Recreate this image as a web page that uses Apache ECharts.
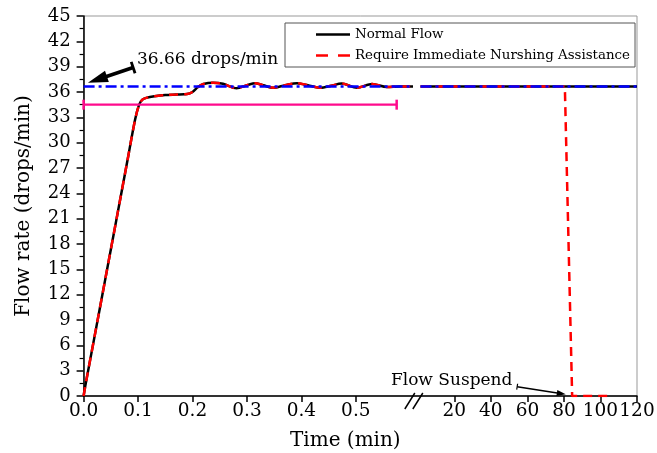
<!DOCTYPE html>
<html>
<head>
<meta charset="utf-8">
<script src="https://cdn.jsdelivr.net/npm/echarts@6/dist/echarts.min.js"></script>
<style>html,body{margin:0;padding:0;background:#fff}#c{width:657px;height:453px}</style>
</head>
<body>
<div id="c"></div>
<script>
// ---- data (time in minutes, flow in drops/min) ----
var seg1Time = [0, 0.004, 0.02, 0.04, 0.06, 0.08, 0.0945, 0.102, 0.108, 0.115, 0.13, 0.15, 0.17, 0.19, 0.2, 0.21, 0.22, 0.238, 0.256, 0.281, 0.3, 0.315, 0.33, 0.348, 0.37, 0.392, 0.415, 0.435, 0.455, 0.474, 0.502, 0.53, 0.557, 0.58, 0.605];
var seg1Flow = [0, 1.5, 7.0, 13.9, 20.8, 27.7, 32.7, 34.5, 35.1, 35.3, 35.5, 35.65, 35.7, 35.75, 36.0, 36.6, 36.95, 37.1, 36.97, 36.45, 36.8, 37.05, 36.8, 36.5, 36.8, 37.05, 36.75, 36.5, 36.75, 37.0, 36.5, 36.95, 36.6, 36.66, 36.66];
var normalSeg2Time = [1.5, 120];
var normalSeg2Flow = [36.66, 36.66];
var alarmSeg2Time = [1.5, 80.5, 84.5, 105];
var alarmSeg2Flow = [36.66, 36.66, 0, 0];
var setRate = 36.66;
var setSeg1Time = [0, 0.605];
var setSeg2Time = [1.5, 120];
var rangeTime = [0, 0.575];
var rangeFlow = 34.5;
var xTicks1 = [0, 0.1, 0.2, 0.3, 0.4, 0.5];
var xTicks2 = [20, 40, 60, 80, 100, 120];

// broken axis: segment 1 linear in minutes, segment 2 compressed
var B = 0.6138, K = 0.003355;
function d1(t) { return t; }
function d2(T) { return B + T * K; }
function pts(ts, vs, f) { return ts.map(function (t, i) { return [f(t), vs[i]]; }); }

var FONT = 'DejaVu Serif';
var N1 = 'Normal Flow', N2 = 'Require Immediate Nurshing Assistance';
var tickVals = xTicks1.map(d1).concat(xTicks2.map(d2));

var chart = echarts.init(document.getElementById('c'));
var lineBase = { type: 'line', symbol: 'none', animation: false };
var blackStyle = { color: '#000', width: 2.5, type: 'solid' };
var redStyle = { color: '#ff0000', width: 2.5, type: [9, 6] };
var blueStyle = { color: '#0000ff', width: 2.5, type: [11, 4, 3, 4] };

chart.setOption({
  animation: false,
  textStyle: { fontFamily: FONT },
  grid: { left: 83.6, right: 20, top: 16, bottom: 57, outerBoundsMode: 'none', containLabel: false, show: true, borderColor: '#999', borderWidth: 1 },
  legend: {
    data: [
      { name: N1, icon: 'path://M0 0H34V2.6H0Z' },
      { name: N2, icon: 'path://M0 0H12V2.6H0Z M22 0H34V2.6H22Z' }
    ],
    orient: 'vertical', left: 285, top: 23,
    itemWidth: 34, itemHeight: 14, itemGap: 8,
    padding: [5, 5, 5, 31], borderColor: '#555', borderWidth: 1, backgroundColor: '#fff',
    textStyle: { fontFamily: FONT, fontSize: 13.4, color: '#000' }
  },
  xAxis: {
    type: 'value', min: 0, max: d2(120),
    name: 'Time (min)', nameLocation: 'middle', nameGap: 35,
    nameTextStyle: { fontFamily: FONT, fontSize: 20, color: '#000', padding: [0, 30, 0, 0] },
    axisLine: { show: true, lineStyle: { color: '#000', width: 1.5 } },
    axisTick: { show: true, customValues: tickVals, length: 6, lineStyle: { color: '#000', width: 1.5 } },
    axisLabel: {
      customValues: tickVals, margin: 6, fontFamily: FONT, fontSize: 18.5, color: '#000',
      formatter: function (v) { return v < B ? v.toFixed(1) : String(Math.round((v - B) / K)); }
    },
    splitLine: { show: false }
  },
  yAxis: {
    type: 'value', min: 0, max: 45, interval: 3,
    name: 'Flow rate (drops/min)', nameLocation: 'middle', nameGap: 50,
    nameTextStyle: { fontFamily: FONT, fontSize: 20, color: '#000' },
    axisLine: { show: true, lineStyle: { color: '#000', width: 1.5 } },
    axisTick: { show: true, length: 7, lineStyle: { color: '#000', width: 1.5 } },
    minorTick: { show: true, splitNumber: 2, length: 4, lineStyle: { color: '#000', width: 1.2 } },
    axisLabel: { margin: 13, fontFamily: FONT, fontSize: 18, color: '#000' },
    splitLine: { show: false }
  },
  series: [
    Object.assign({}, lineBase, { name: N1, smooth: 0.3, data: pts(seg1Time, seg1Flow, d1), lineStyle: blackStyle, itemStyle: { color: '#000' } }),
    Object.assign({}, lineBase, { name: N1, data: pts(normalSeg2Time, normalSeg2Flow, d2), lineStyle: blackStyle, itemStyle: { color: '#000' } }),
    Object.assign({}, lineBase, { name: N2, smooth: 0.3, data: pts(seg1Time, seg1Flow, d1), lineStyle: redStyle, itemStyle: { color: '#ff0000' } }),
    Object.assign({}, lineBase, { name: N2, data: pts(alarmSeg2Time, alarmSeg2Flow, d2), lineStyle: redStyle, itemStyle: { color: '#ff0000' } }),
    Object.assign({}, lineBase, { name: 'Set rate', data: setSeg1Time.map(function (t) { return [d1(t), setRate]; }), lineStyle: blueStyle }),
    Object.assign({}, lineBase, { name: 'Set rate', data: setSeg2Time.map(function (t) { return [d2(t), setRate]; }), lineStyle: blueStyle }),
    { type: 'line', name: 'Range', animation: false, symbol: 'rect', symbolSize: [2.5, 10], showSymbol: true,
      data: rangeTime.map(function (t) { return [d1(t), rangeFlow]; }),
      lineStyle: { color: '#ff0a8c', width: 2.2 }, itemStyle: { color: '#ff0a8c' } }
  ]
});

// ---- annotations positioned from data coordinates ----
function px(x, y) { return chart.convertToPixel({ gridIndex: 0 }, [x, y]); }
function arrow(tail, head, w, hl, hw) {
  var dx = head[0] - tail[0], dy = head[1] - tail[1], L = Math.sqrt(dx * dx + dy * dy);
  var ux = dx / L, uy = dy / L, nx = -uy, ny = ux;
  var bx = head[0] - ux * hl, by = head[1] - uy * hl;
  var capL = hw * 0.5;
  return [
    { type: 'line', shape: { x1: tail[0], y1: tail[1], x2: bx + ux * 2, y2: by + uy * 2 }, style: { stroke: '#000', lineWidth: w } },
    { type: 'polygon', shape: { points: [[head[0], head[1]], [bx + nx * hw / 2, by + ny * hw / 2], [bx - nx * hw / 2, by - ny * hw / 2]] }, style: { fill: '#000' } },
    { type: 'line', shape: { x1: tail[0] + nx * capL, y1: tail[1] + ny * capL, x2: tail[0] - nx * capL, y2: tail[1] - ny * capL }, style: { stroke: '#000', lineWidth: Math.max(1.2, w * 0.8) } }
  ];
}
var g = [];
var a1t = px(d1(0.091), 38.9), a1h = px(d1(0.008), 37.1);
g = g.concat(arrow(a1t, a1h, 3.5, 20, 12));
var t1 = px(d1(0.098), 39.8);
g.push({ type: 'text', x: t1[0], y: t1[1], style: { text: '36.66 drops/min', font: '17px "DejaVu Serif"', fill: '#000', align: 'left', verticalAlign: 'middle' } });
var a2t = px(d2(54.4), 1.1), a2h = px(d2(81), 0.2);
g = g.concat(arrow(a2t, a2h, 1.5, 9, 6));
var t2 = px(d2(51.8), 1.8);
g.push({ type: 'text', x: t2[0], y: t2[1], style: { text: 'Flow Suspend', font: '17px "DejaVu Serif"', fill: '#000', align: 'right', verticalAlign: 'middle' } });
var bp = px(B, 0);
[[-13, -3], [-5, 5]].forEach(function (o) {
  g.push({ type: 'line', shape: { x1: bp[0] + o[0], y1: bp[1] + 13, x2: bp[0] + o[1], y2: bp[1] - 3 }, style: { stroke: '#000', lineWidth: 1.5 } });
});
chart.setOption({ graphic: g });
</script>
</body>
</html>
